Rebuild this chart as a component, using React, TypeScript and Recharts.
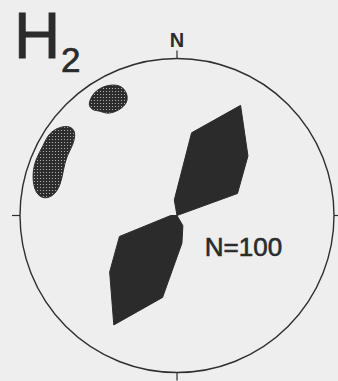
import { PolarAngleAxis, PolarRadiusAxis, Radar, RadarChart, Scatter, ScatterChart, XAxis, YAxis } from 'recharts'

// rose diagram: 20 degree bins, bidirectional, percent of N=100
const binCentres = [10, 30, 50, 70, 90, 110, 130, 150, 170, 190, 210, 230, 250, 270, 290, 310, 330, 350]
const binPercent = [10.7, 16.2, 11.8, 8.2, 0, 0, 0, 1.5, 3.6, 10.6, 16.1, 11.2, 7.8, 0.8, 0, 0, 0, 2.0]

const compassTicks = [0, 90, 180, 270]
const compassLabels = ['N', '', '', '']

// pole density contours, projected x (east) / y (north) on the unit net
const contourA = [
  { x: -0.561, y: 0.725 }, { x: -0.522, y: 0.799 }, { x: -0.427, y: 0.838 }, { x: -0.342, y: 0.825 },
  { x: -0.31, y: 0.757 }, { x: -0.325, y: 0.704 }, { x: -0.384, y: 0.661 }, { x: -0.452, y: 0.646 },
  { x: -0.49, y: 0.668 }, { x: -0.533, y: 0.668 }, { x: -0.559, y: 0.693 },
]
const contourB = [
  { x: -0.745, y: 0.566 }, { x: -0.682, y: 0.57 }, { x: -0.643, y: 0.534 }, { x: -0.661, y: 0.449 },
  { x: -0.703, y: 0.379 }, { x: -0.724, y: 0.29 }, { x: -0.741, y: 0.194 }, { x: -0.788, y: 0.12 },
  { x: -0.862, y: 0.103 }, { x: -0.911, y: 0.162 }, { x: -0.922, y: 0.269 }, { x: -0.898, y: 0.364 },
  { x: -0.855, y: 0.438 }, { x: -0.819, y: 0.524 },
]

const W = 338
const H = 381
const CX = 177
const CY = 215.5
const R = 157
const INK = '#2b2b2b'
const FONT = '"Liberation Sans", Arial, sans-serif'

const roseData = binCentres.map((az, i) => ({ az, pct: binPercent[i] }))

function CompassTick(props: any) {
  const label = compassLabels[compassTicks.indexOf(props.payload.value)]
  if (!label) return <g />
  return (
    <text x={props.x} y={props.y - 4} textAnchor="middle" fill={INK} fontSize={20} fontWeight="bold" fontFamily={FONT}>
      {label}
    </text>
  )
}

const hidePoint = () => <g />

export default function App() {
  return (
    <div style={{ position: 'absolute', left: 0, top: 0, width: W, height: H, background: '#eeeeee', overflow: 'hidden' }}>
      <svg width={0} height={0} style={{ position: 'absolute' }}>
        <defs>
          <pattern id="stipple" width={3} height={3} patternUnits="userSpaceOnUse">
            <rect width={3} height={3} fill="#2c2c2c" />
            <circle cx={1.5} cy={1.5} r={0.6} fill="#c4c4c4" />
          </pattern>
        </defs>
      </svg>

      <div style={{ position: 'absolute', left: 0, top: 0 }}>
        <RadarChart width={W} height={H} data={roseData} cx={CX} cy={CY} outerRadius={R} margin={{ top: 0, right: 0, bottom: 0, left: 0 }}>
          <PolarAngleAxis
            dataKey="az"
            type="number"
            domain={[0, 360]}
            ticks={compassTicks}
            tickSize={8}
            axisLineType="circle"
            axisLine={{ stroke: '#2e2e2e', strokeWidth: 1.4 }}
            tickLine={{ stroke: '#2e2e2e', strokeWidth: 1.2 }}
            tick={CompassTick}
          />
          <PolarRadiusAxis domain={[0, 20]} tick={false} axisLine={false} />
          <Radar dataKey="pct" stroke={INK} strokeWidth={1} fill={INK} fillOpacity={1} dot={false} isAnimationActive={false} />
        </RadarChart>
      </div>

      <div style={{ position: 'absolute', left: 0, top: 0 }}>
        <ScatterChart width={W} height={H} margin={{ top: CY - R, right: W - CX - R, bottom: H - CY - R, left: CX - R }}>
          <XAxis type="number" dataKey="x" domain={[-1, 1]} hide />
          <YAxis type="number" dataKey="y" domain={[-1, 1]} hide />
          <Scatter
            data={contourA}
            fill="#2c2c2c"
            line={{ fill: 'url(#stipple)', stroke: '#2c2c2c', strokeWidth: 1 }}
            lineJointType="basisClosed"
            shape={hidePoint}
            isAnimationActive={false}
          />
          <Scatter
            data={contourB}
            fill="#2c2c2c"
            line={{ fill: 'url(#stipple)', stroke: '#2c2c2c', strokeWidth: 1 }}
            lineJointType="basisClosed"
            shape={hidePoint}
            isAnimationActive={false}
          />
          <text x={14} y={58} fill={INK} stroke={INK} strokeWidth={0.9} fontSize={64} fontFamily={FONT}>H</text>
          <text x={61} y={72} fill={INK} stroke={INK} strokeWidth={0.7} fontSize={35} fontFamily={FONT}>2</text>
          <text x={243.5} y={256} textAnchor="middle" fill={INK} stroke={INK} strokeWidth={0.6} fontSize={26} fontFamily={FONT}>
            N=100
          </text>
        </ScatterChart>
      </div>
    </div>
  )
}
